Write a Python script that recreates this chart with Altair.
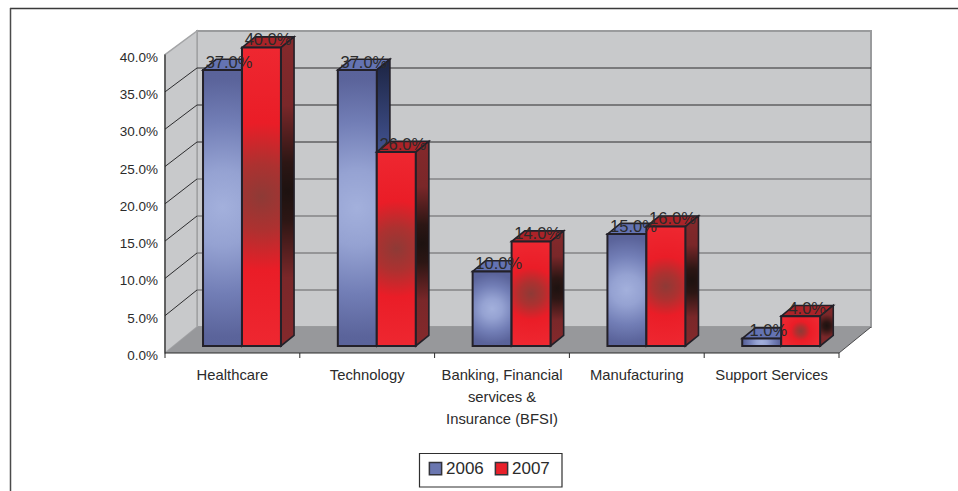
import altair as alt
import pandas as pd

# Chart values
categories = ["Healthcare", "Technology", "Banking, Financial\nservices &\nInsurance (BFSI)",
              "Manufacturing", "Support Services"]
share_2006 = [0.37, 0.37, 0.10, 0.15, 0.01]
share_2007 = [0.40, 0.26, 0.14, 0.16, 0.04]
y_ticks = [0, 0.05, 0.10, 0.15, 0.20, 0.25, 0.30, 0.35, 0.40]
dark_grid = [0.25, 0.30, 0.35]
soft_grid = [0.05, 0.10, 0.15, 0.20]

# Scales: one unit of x is a category slot, y is a share; the oblique projection
# moves a point at depth z by (z*DX, z*DY).
W, H = 958, 491
X0, XU = 165, 134.8
Y0, YU = 353, 746
DX, DY = 32 / XU, 26 / YU
BACK = 0.992  # the back wall reads slightly shorter than the front plane
Z_FRONT, Z_BACK = 0.27, 0.68
BAR_L, BAR_W = 0.218, 0.289
N = len(categories)

xs = alt.Scale(domain=[-X0 / XU, (W - X0) / XU], range=[0, W], nice=False, zero=False)
ys = alt.Scale(domain=[(Y0 - H) / YU, Y0 / YU], range=[H, 0], nice=False, zero=False)


def X(f="x", **kw):
    return alt.X(f"{f}:Q", scale=xs, axis=None, **kw)


def Y(f="y", **kw):
    return alt.Y(f"{f}:Q", scale=ys, axis=None, **kw)


def radial(stops):
    return alt.RadialGradient(
        gradient="radial", x1=0.5, y1=0.5, x2=0.5, y2=0.5, r1=0, r2=0.62,
        stops=[alt.GradientStop(offset=o, color=c) for o, c in stops],
    )


def vertical(stops):
    return alt.LinearGradient(
        gradient="linear", x1=0, y1=0, x2=0, y2=1,
        stops=[alt.GradientStop(offset=o, color=c) for o, c in stops],
    )


front_fill = {
    "2006": radial([(0, "#a3b0dc"), (0.22, "#95a2d2"), (0.5, "#727eb6"), (0.75, "#5b649b"), (1, "#555e96")]),
    "2007": radial([(0, "#8e3a36"), (0.18, "#ad3130"), (0.4, "#ea1d27"), (1, "#f02c35")]),
}
side_fill = {
    "2006": vertical([(0, "#1c2442"), (0.3, "#3f4f8a"), (1, "#4a5a94")]),
    "2007": radial([(0, "#1d1210"), (0.15, "#2c1614"), (0.45, "#7a2729"), (1, "#8a2a2d")]),
}
top_fill = {"2006": "#6473b2", "2007": "#ab2328"}
legend_color = {"2006": "#6a76b0", "2007": "#e9202a"}
EDGE = "#232028"

series = {"2006": (share_2006, 0), "2007": (share_2007, 1)}


def rows(values, slot):
    out = []
    for i, (c, v) in enumerate(zip(categories, values)):
        left = i + BAR_L + slot * BAR_W
        out.append(dict(cat=c, v=v, left=left, right=left + BAR_W))
    return out


layers = []

# Back wall, side wall and floor
wall = pd.DataFrame([dict(x=DX, x2=N + DX, y=DY, y2=0.4 * BACK + DY)])
layers.append(alt.Chart(wall).mark_rect(fill="#c8c9cb", stroke="#9a9b9d", strokeWidth=2).encode(
    x=X(), x2="x2:Q", y=Y(), y2="y2:Q"))

side = pd.DataFrame([dict(x=0, y=0.4, y2=0), dict(x=DX, y=0.4 * BACK + DY, y2=DY)])
layers.append(alt.Chart(side).mark_area(fill="#c8c9cb", stroke="#a4a5a7", strokeWidth=1.5).encode(
    x=X(), y=Y(), y2="y2:Q"))

floor = pd.DataFrame([dict(y=0, x=0, x2=N), dict(y=DY, x=DX, x2=N + DX)])
layers.append(alt.Chart(floor).mark_area(orient="horizontal", fill="#97989b").encode(
    y=Y(), x=X(), x2="x2:Q"))

# Gridlines on the back wall and their continuation across the side wall
for ticks, col in ((dark_grid, "#2c2c2e"), (soft_grid, "#626365")):
    g = pd.DataFrame({"v": ticks})
    g["y"] = g.v * BACK + DY
    g["x"] = DX
    g["x2"] = N + DX
    layers.append(alt.Chart(g).mark_rule(color=col, strokeWidth=1.2).encode(
        x=X(), x2="x2:Q", y=Y()))

ob = pd.DataFrame({"v": y_ticks[1:-1]})
ob["x"] = 0
ob["x2"] = DX
ob["y"] = ob.v
ob["y2"] = ob.v * BACK + DY
layers.append(alt.Chart(ob).mark_rule(color="#2c2c2e", strokeWidth=1).encode(
    x=X(), x2="x2:Q", y=Y(), y2="y2:Q"))

# Native value axis ticks, pulled in to the front corner of the side wall
axis_df = pd.DataFrame({"x": [0, 0], "y": [0, 0.4]})
layers.append(alt.Chart(axis_df).mark_line(color="#2a2a2a", strokeWidth=1.2).encode(
    x=X(),
    y=alt.Y("y:Q", scale=ys, axis=alt.Axis(
        values=y_ticks, labels=False, title=None, domain=False, grid=False, offset=-X0,
        orient="left", tickColor="#2a2a2a", tickSize=5)),
))

# Value axis captions
ytxt = pd.DataFrame({"y": y_ticks, "label": [f"{t * 100:.1f}%" for t in y_ticks]})
layers.append(alt.Chart(ytxt).mark_text(
    font="Liberation Sans", fontSize=13.5, color="#2b2b2b", align="right", baseline="middle", dy=3).encode(
    x=alt.value(158), y=Y(), text="label:N"))

# Front edge of the floor with its category ticks, and the right-hand floor edge
base = pd.DataFrame({"x": [0], "x2": [N], "y": [0]})
layers.append(alt.Chart(base).mark_rule(color="#2a2a2a", strokeWidth=1.2).encode(
    x=X(), x2="x2:Q", y=Y()))
edge = pd.DataFrame({"x": [N], "x2": [N + DX], "y": [0], "y2": [DY]})
layers.append(alt.Chart(edge).mark_rule(color="#4a4a4c", strokeWidth=1).encode(
    x=X(), x2="x2:Q", y=Y(), y2="y2:Q"))
tick_df = pd.DataFrame({"x": list(range(N + 1))})
tick_df["y"] = 0
tick_df["y2"] = -5 / YU
layers.append(alt.Chart(tick_df).mark_rule(color="#2a2a2a", strokeWidth=1).encode(
    x=X(), y=Y(), y2="y2:Q"))

# Solid bars: these carry the legend; the shaded faces are drawn above them
solid = []
for name, (vals, slot) in series.items():
    for r in rows(vals, slot):
        solid.append(dict(year=name, x=r["left"] + Z_FRONT * DX, x2=r["right"] + Z_FRONT * DX,
                          y=Z_FRONT * DY, y2=r["v"] + Z_FRONT * DY))
layers.append(alt.Chart(pd.DataFrame(solid)).mark_rect().encode(
    x=X(), x2="x2:Q", y=Y(), y2="y2:Q",
    color=alt.Color("year:N", scale=alt.Scale(domain=list(legend_color), range=list(legend_color.values())),
                    legend=alt.Legend(
                        title=None, orient="none", legendX=420, legendY=453, direction="horizontal",
                        columns=2, columnPadding=8, padding=7,
                        labelFont="Liberation Sans", labelFontSize=17, labelColor="#2b2b2b",
                        symbolType="square", symbolSize=150, symbolStrokeColor="#33333a",
                        symbolStrokeWidth=1.5, labelOffset=2)),
))

# Each series in turn: top face, side face, front face
for name, (vals, slot) in series.items():
    rs = rows(vals, slot)
    top, sd, fr = [], [], []
    for r in rs:
        for z in (Z_FRONT, Z_BACK):
            top.append(dict(cat=r["cat"], y=r["v"] + z * DY, x=r["left"] + z * DX, x2=r["right"] + z * DX))
            sd.append(dict(cat=r["cat"], x=r["right"] + z * DX, y=r["v"] + z * DY, y2=z * DY))
        fr.append(dict(cat=r["cat"], x=r["left"] + Z_FRONT * DX, x2=r["right"] + Z_FRONT * DX,
                       y=Z_FRONT * DY, y2=r["v"] + Z_FRONT * DY))
    layers.append(alt.Chart(pd.DataFrame(top)).mark_area(
        orient="horizontal", fill=top_fill[name], stroke=EDGE, strokeWidth=1.6).encode(
        y=Y(), x=X(), x2="x2:Q", detail="cat:N"))
    layers.append(alt.Chart(pd.DataFrame(sd)).mark_area(
        fill=side_fill[name], stroke=EDGE, strokeWidth=1.6).encode(
        x=X(), y=Y(), y2="y2:Q", detail="cat:N"))
    layers.append(alt.Chart(pd.DataFrame(fr)).mark_rect(
        fill=front_fill[name], stroke=EDGE, strokeWidth=2).encode(
        x=X(), x2="x2:Q", y=Y(), y2="y2:Q"))

# Value labels sit on the top faces
zmid = (Z_FRONT + Z_BACK) / 2
lab = []
for name, (vals, slot) in series.items():
    for r in rows(vals, slot):
        lab.append(dict(x=(r["left"] + r["right"]) / 2 + zmid * DX, y=r["v"] + zmid * DY,
                        label=f"{r['v'] * 100:.1f}%"))
layers.append(alt.Chart(pd.DataFrame(lab)).mark_text(
    font="Liberation Sans", fontSize=16.5, color="#2b2b2b", dy=-2, baseline="middle").encode(
    x=X(), y=Y(), text="label:N"))

# Category captions
cap = pd.DataFrame({"x": [i + 0.5 for i in range(N)], "label": categories})
layers.append(alt.Chart(cap).mark_text(
    font="Liberation Sans", fontSize=14.8, color="#2b2b2b", baseline="top", lineBreak="\n", lineHeight=22).encode(
    x=X(), y=alt.value(368), text="label:N"))

# Legend box
layers.append(alt.Chart(pd.DataFrame({"a": [0]})).mark_rect(
    fill="#ffffff", stroke="#2f2f2f", strokeWidth=1.2).encode(
    x=alt.value(419.5), x2=alt.value(562), y=alt.value(453.5), y2=alt.value(487)))

# Surrounding frame: top and left edges
layers.append(alt.Chart(pd.DataFrame({"a": [0]})).mark_rule(color="#3a3a3a", strokeWidth=1.5).encode(
    x=alt.value(10), x2=alt.value(W), y=alt.value(8.5)))
layers.append(alt.Chart(pd.DataFrame({"a": [0]})).mark_rule(color="#4a4a4a", strokeWidth=1.5).encode(
    x=alt.value(10.5), y=alt.value(8), y2=alt.value(H)))

chart = alt.layer(*layers).properties(
    width=W, height=H, padding=0, autosize=alt.AutoSizeParams(type="none"),
    background="#ffffff",
).configure_view(stroke=None)

chart.save("out.html", embed_options={"renderer": "svg", "actions": False})
